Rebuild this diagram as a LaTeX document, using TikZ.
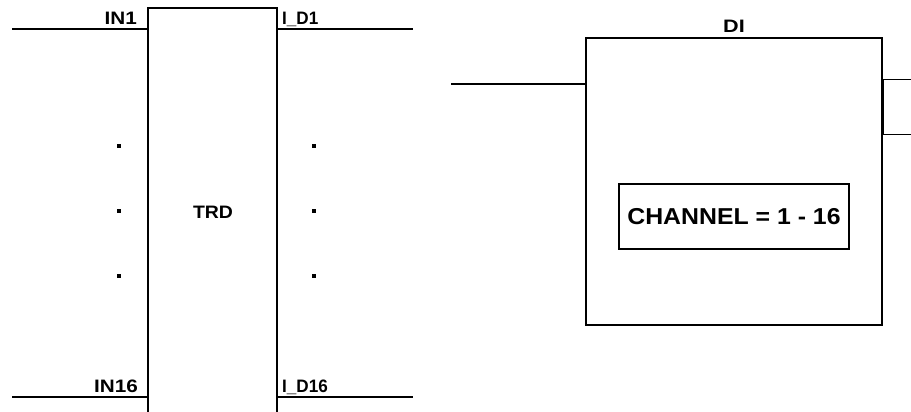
\documentclass[tikz,border=0pt]{standalone}
\usepackage{fontspec}
\setmainfont{Liberation Sans}
\usetikzlibrary{positioning,calc}
\newcommand\widetxt[2][1.15]{\scalebox{#1}[1]{#2}}
\tikzset{blk/.style={draw,line width=1.4pt,inner sep=0pt}, sig/.style={line width=2.6pt}, lbl/.style={font=\bfseries\fontsize{18}{18}\selectfont,inner sep=0pt}, bigtxt/.style={font=\bfseries\fontsize{23}{23}\selectfont}, dotmark/.style={fill,minimum size=4pt,inner sep=0pt}}

\begin{document}
\begin{tikzpicture}[x=1pt,y=-1pt]
\useasboundingbox (0,0) rectangle (911,412);
% left block
\node[blk,minimum width=129pt,minimum height=410pt] (trd) at (212.5,213) {};
\node[lbl] at (213,212) (trdname) {\widetxt[1.08]{TRD}};
\coordinate (in1) at (12,29);\coordinate (out1) at (413,29);
\coordinate (in16) at (12,397);\coordinate (out16) at (413,397);
\draw[sig] (in1) -- (in1 -| trd.west);\draw[sig] (out1 -| trd.east) -- (out1);
\draw[sig] (in16) -- (in16 -| trd.west);\draw[sig] (out16 -| trd.east) -- (out16);
\node[lbl,anchor=base east] (lin1) at (137,25) {\widetxt{IN1}};
\node[lbl,anchor=base west] (lout1) at (282,25) {\widetxt[0.95]{I\_D1}};
\node[lbl,anchor=base east] (lin16) at (138,392) {\widetxt{IN16}};
\node[lbl,anchor=base west] (lout16) at (282,392) {\widetxt[0.95]{I\_D16}};
\foreach \y in {146,211,276} {\node[dotmark] at (119,\y) {};\node[dotmark] at (314,\y) {};}
% right block
\node[blk,minimum width=296pt,minimum height=287pt] (di) at (734,181.5) {};
\node[lbl,anchor=base] (diname) at (di.north |- 0,33) {\widetxt[1.2]{DI}};
\coordinate (diin) at (451,84);
\draw[sig] (diin) -- (diin -| di.west);
\node[blk,minimum width=29pt,minimum height=55pt,anchor=north west] (tab) at (di.east |- 0,79) {};
\node[blk,bigtxt,minimum width=230pt,minimum height=65pt] (chan) at (734,216.5) {\widetxt[1.08]{CHANNEL = 1 - 16}};
\end{tikzpicture}
\end{document}
